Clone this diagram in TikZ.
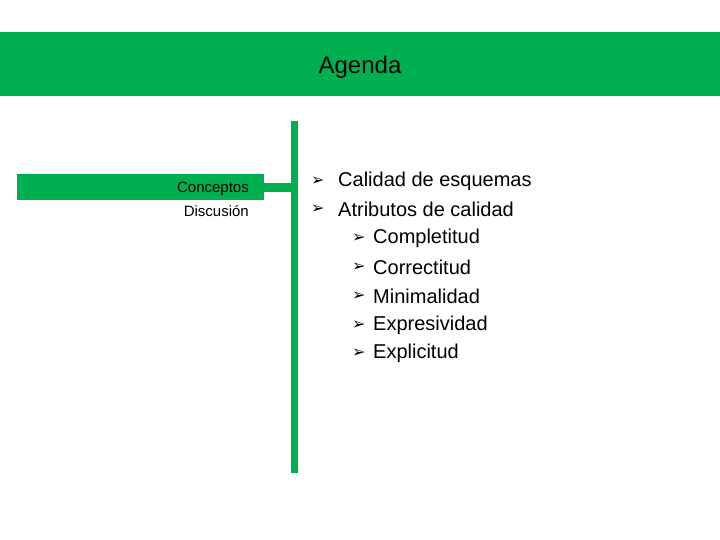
\documentclass[tikz,border=0pt]{standalone}
\usepackage{fontspec}
\setmainfont{Liberation Sans}
\newfontfamily\symfont{DejaVu Sans}
\definecolor{agreen}{RGB}{0,176,80}
\begin{document}
\begin{tikzpicture}[x=1pt,y=-1pt,
  item/.style={anchor=west,inner sep=0,font=\fontsize{20}{24}\selectfont},
  bul/.style={anchor=west,inner sep=0,font=\symfont\fontsize{16}{20}\selectfont},
  lft/.style={anchor=east,inner sep=0,font=\fontsize{15}{18}\selectfont}]
\useasboundingbox (0,0) rectangle (720,540);
\fill[agreen] (0,32) rectangle (720,96);
\node[inner sep=0,font=\fontsize{24}{28}\selectfont] (title) at (360,67) {Agenda};
\fill[agreen] (291,121) rectangle (298,473);
\fill[agreen] (17,174) rectangle (264,200);
\fill[agreen] (264,183) rectangle (291,192);
\node[lft] (c) at (249,189) {Conceptos};
\node[lft] (d) at (249,211) {Discusión};
\foreach \y/\t [count=\i] in {181/Calidad de esquemas,209/Atributos de calidad}{
  \node[bul] (b\i) at (311,\y) {➢};
  \node[item] (t\i) at (338,\y) {\t};}
\foreach \y/\t [count=\i] in {238/Completitud,267/Correctitud,296/Minimalidad,325/Expresividad,353/Explicitud}{
  \node[bul] (sb\i) at (352,\y) {➢};
  \node[item] (st\i) at (373,\y) {\t};}
\end{tikzpicture}
\end{document}
